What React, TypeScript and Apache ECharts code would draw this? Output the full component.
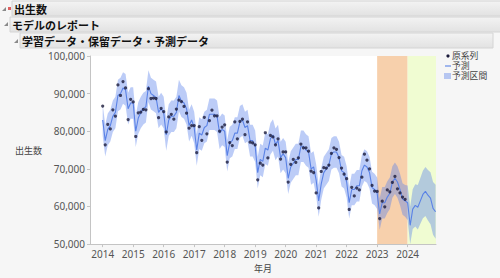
import React, { useEffect, useRef } from "react";
import * as echarts from "echarts";

const startYear = 2014;
const yearTicks = [2014, 2015, 2016, 2017, 2018, 2019, 2020, 2021, 2022, 2023, 2024];

// 原系列 (monthly, Jan 2014 - Dec 2023)
const observed = [
  86700, 76400, 81800, 80600, 85700, 84000, 92300, 89500, 93200, 91500, 83100, 88500,
  87800, 78600, 84900, 85100, 85800, 85700, 91300, 88700, 88800, 88700, 83600, 86100,
  85200, 79800, 83800, 84500, 83200, 85900, 88300, 87900, 86600, 84800, 80800, 81500,
  81500, 74300, 81200, 77600, 83700, 79300, 82800, 85600, 84100, 84100, 80000, 81100,
  81700, 71800, 77000, 76200, 82500, 78000, 82600, 83200, 79100, 82500, 77100, 76900,
  76400, 67100, 71500, 71000, 79600, 72900, 78900, 78500, 76400, 78000, 72600, 74500,
  74500, 66500, 71200, 72500, 71700, 72900, 76600, 75600, 75600, 74700, 69400, 69000,
  63600, 59600, 69300, 70300, 70200, 71000, 74100, 75600, 75200, 73000, 70200, 68600,
  67400, 59200, 65100, 62800, 64900, 64400, 67800, 73900, 72300, 70000, 65600, 64100,
  64000, 56800, 61400, 59900, 64400, 63900, 66400, 68000, 64700, 63600, 62500, 61900,
];

// 予測 (fitted, Jan 2014 - Dec 2023)
const fitted = [
  83000, 77500, 80500, 81500, 84000, 85000, 89500, 90000, 91500, 91000, 86000, 87500,
  87500, 80000, 83500, 85000, 86000, 86500, 92000, 90000, 89500, 89000, 85000, 86000,
  85000, 79000, 83000, 84000, 84000, 85000, 89500, 88000, 87500, 86000, 81500, 83000,
  81000, 75000, 79500, 79000, 81000, 81500, 84500, 84500, 84500, 84000, 79500, 80500,
  80000, 73500, 77000, 77500, 79500, 79500, 82500, 83000, 81000, 81500, 77500, 77500,
  76000, 69000, 72500, 72000, 75500, 75000, 78000, 79000, 76500, 77500, 73000, 74000,
  73000, 67500, 70500, 71500, 72500, 72500, 76000, 76000, 75000, 74500, 70000, 70500,
  67000, 61500, 66000, 69000, 70000, 71000, 74000, 74500, 74500, 73000, 69500, 69000,
  66500, 61000, 64500, 64500, 65500, 65500, 69500, 71000, 70500, 69000, 65000, 64500,
  63500, 58000, 61000, 61000, 62500, 63500, 66500, 67500, 66500, 64500, 62000, 61500,
];

// 予測 (forecast, Jan 2024 - Dec 2024)
const forecast = [61000, 55000, 59300, 60300, 59800, 61500, 63200, 64000, 63000, 62200, 59500, 58600];

// 予測区間 half widths
const fittedHalfWidth = 4200;
const forecastHalfWidth = [4600, 5000, 5300, 5600, 5900, 6100, 6300, 6500, 6700, 6900, 7000, 7200];

const holdoutRange = [2023, 2024];
const forecastRange = [2024, 2024.93];
const xRange = [2013.584, 2024.93];

const legendNames = ["原系列", "予測", "予測区間"];

const toX = (i: number) => startYear + i / 12;

export default function App() {
  const ref = useRef<HTMLDivElement>(null);

  useEffect(() => {
    if (!ref.current) return;
    const chart = echarts.init(ref.current, undefined, { renderer: "svg" });

    const predValues = fitted.concat(forecast);
    const halfWidths = fitted.map(() => fittedHalfWidth).concat(forecastHalfWidth);
    const bandData = predValues.map((v, i) => [toX(i), v - halfWidths[i], v + halfWidths[i]]);
    const lineData = predValues.map((v, i) => [toX(i), v]);
    const obsData = observed.map((v, i) => [toX(i), v]);

    const font = "'Noto Sans', 'Noto Sans CJK JP', sans-serif";
    const jpFont = "'Noto Sans CJK JP', sans-serif";
    const legendFont = "'Liberation Sans', 'Noto Sans CJK JP', sans-serif";
    const bandColor = "rgba(88,128,235,0.4)";

    const headerBar = (x: number, y: number, w: number, h: number) => ({
      type: "rect",
      shape: { x, y, width: w, height: h },
      style: {
        fill: new echarts.graphic.LinearGradient(0, 0, 0, 1, [
          { offset: 0, color: "#f3f3f3" },
          { offset: 1, color: "#e2e2e2" },
        ]),
        stroke: "#d4d4d4",
        lineWidth: 1,
      },
      silent: true,
    });
    const tri = (x: number, y: number) => ({
      type: "polygon",
      shape: { points: [[x + 4, y], [x + 4, y + 4], [x, y + 4]] },
      style: { fill: "#8a8a8a" },
      silent: true,
    });
    const headerText = (x: number, y: number, text: string) => ({
      type: "text",
      x,
      y,
      style: { text, fill: "#111", font: `bold 11px ${jpFont}`, textVerticalAlign: "middle", lineHeight: 13 },
      silent: true,
    });
    const legendText = (y: number, text: string) => ({
      type: "text",
      x: 452,
      y,
      style: { text, fill: "#444", font: `8.8px ${legendFont}`, textVerticalAlign: "middle", lineHeight: 9 },
      silent: true,
    });

    chart.setOption({
      animation: false,
      backgroundColor: "#f6f6f6",
      grid: {
        left: 90,
        right: 64,
        top: 56,
        bottom: 31,
        show: true,
        backgroundColor: "#ffffff",
        borderWidth: 0,
      },
      xAxis: {
        type: "value",
        min: xRange[0],
        max: xRange[1],
        name: "年月",
        nameLocation: "middle",
        nameGap: 18,
        nameTextStyle: { color: "#444", fontSize: 9, fontFamily: jpFont },
        splitLine: { show: false },
        axisLine: { lineStyle: { color: "#c4c4c4" } },
        axisTick: { show: true, customValues: yearTicks, length: 3, lineStyle: { color: "#c4c4c4" } },
        axisLabel: {
          customValues: yearTicks,
          color: "#555",
          fontSize: 10,
          fontFamily: font,
          margin: 5,
          formatter: (v: number) => String(Math.round(v)),
        },
      },
      yAxis: {
        type: "value",
        min: 50000,
        max: 100000,
        interval: 10000,
        name: "出生数",
        nameLocation: "middle",
        nameRotate: 0,
        nameGap: 43,
        nameTextStyle: { color: "#444", fontSize: 9, fontFamily: jpFont },
        splitLine: { show: false },
        axisLine: { show: true, lineStyle: { color: "#c4c4c4" } },
        axisTick: { show: true, length: 3, lineStyle: { color: "#c4c4c4" } },
        axisLabel: {
          color: "#555",
          fontSize: 10,
          fontFamily: font,
          margin: 5,
          formatter: (v: number) => v.toLocaleString("en-US"),
        },
      },
      series: [
        {
          name: "regions",
          type: "line",
          data: [],
          z: 1,
          silent: true,
          markArea: {
            silent: true,
            data: [
              [
                { xAxis: holdoutRange[0], itemStyle: { color: "rgb(247,208,172)" } },
                { xAxis: holdoutRange[1] },
              ],
              [
                { xAxis: forecastRange[0], itemStyle: { color: "rgb(240,252,210)" } },
                { xAxis: forecastRange[1] },
              ],
            ],
          },
        },
        {
          name: legendNames[2],
          type: "custom",
          data: bandData,
          encode: { x: 0, y: [1, 2] },
          z: 2,
          silent: true,
          renderItem: (params: any, api: any) => {
            if (params.dataIndex !== 0) return null;
            const top = bandData.map((d) => api.coord([d[0], d[2]]));
            const bottom = bandData.map((d) => api.coord([d[0], d[1]])).reverse();
            return {
              type: "polygon",
              shape: { points: top.concat(bottom) },
              style: { fill: bandColor },
              silent: true,
            };
          },
        },
        {
          name: legendNames[1],
          type: "line",
          data: lineData,
          symbol: "none",
          lineStyle: { color: "#5a82e6", width: 1.1 },
          z: 3,
        },
        {
          name: legendNames[0],
          type: "scatter",
          data: obsData,
          symbol: "circle",
          symbolSize: 3.2,
          itemStyle: { color: "#1a1a3a" },
          z: 4,
        },
      ],
      graphic: [
        headerBar(12, 1, 490, 15),
        tri(2, 7),
        { type: "rect", shape: { x: 8, y: 7, width: 3, height: 3 }, style: { fill: "#e06060" }, silent: true },
        headerText(14, 9, "出生数"),
        headerBar(10, 17, 492, 15),
        tri(4, 22),
        headerText(12, 25, "モデルのレポート"),
        headerBar(20, 33, 473, 15),
        tri(14, 39),
        headerText(22, 41, "学習データ・保留データ・予測データ"),
        // legend
        { type: "circle", shape: { cx: 448, cy: 56, r: 1.6 }, style: { fill: "#1a1a3a" }, silent: true },
        legendText(56, legendNames[0]),
        { type: "line", shape: { x1: 445, y1: 66, x2: 451, y2: 66 }, style: { stroke: "#5a82e6", lineWidth: 1.1 }, silent: true },
        legendText(66, legendNames[1]),
        { type: "rect", shape: { x: 444, y: 73, width: 7, height: 6 }, style: { fill: bandColor }, silent: true },
        legendText(76, legendNames[2]),
      ],
    });

    return () => chart.dispose();
  }, []);

  return (
    <div
      ref={ref}
      style={{ position: "absolute", left: 0, top: 0, width: 500, height: 278 }}
    />
  );
}
